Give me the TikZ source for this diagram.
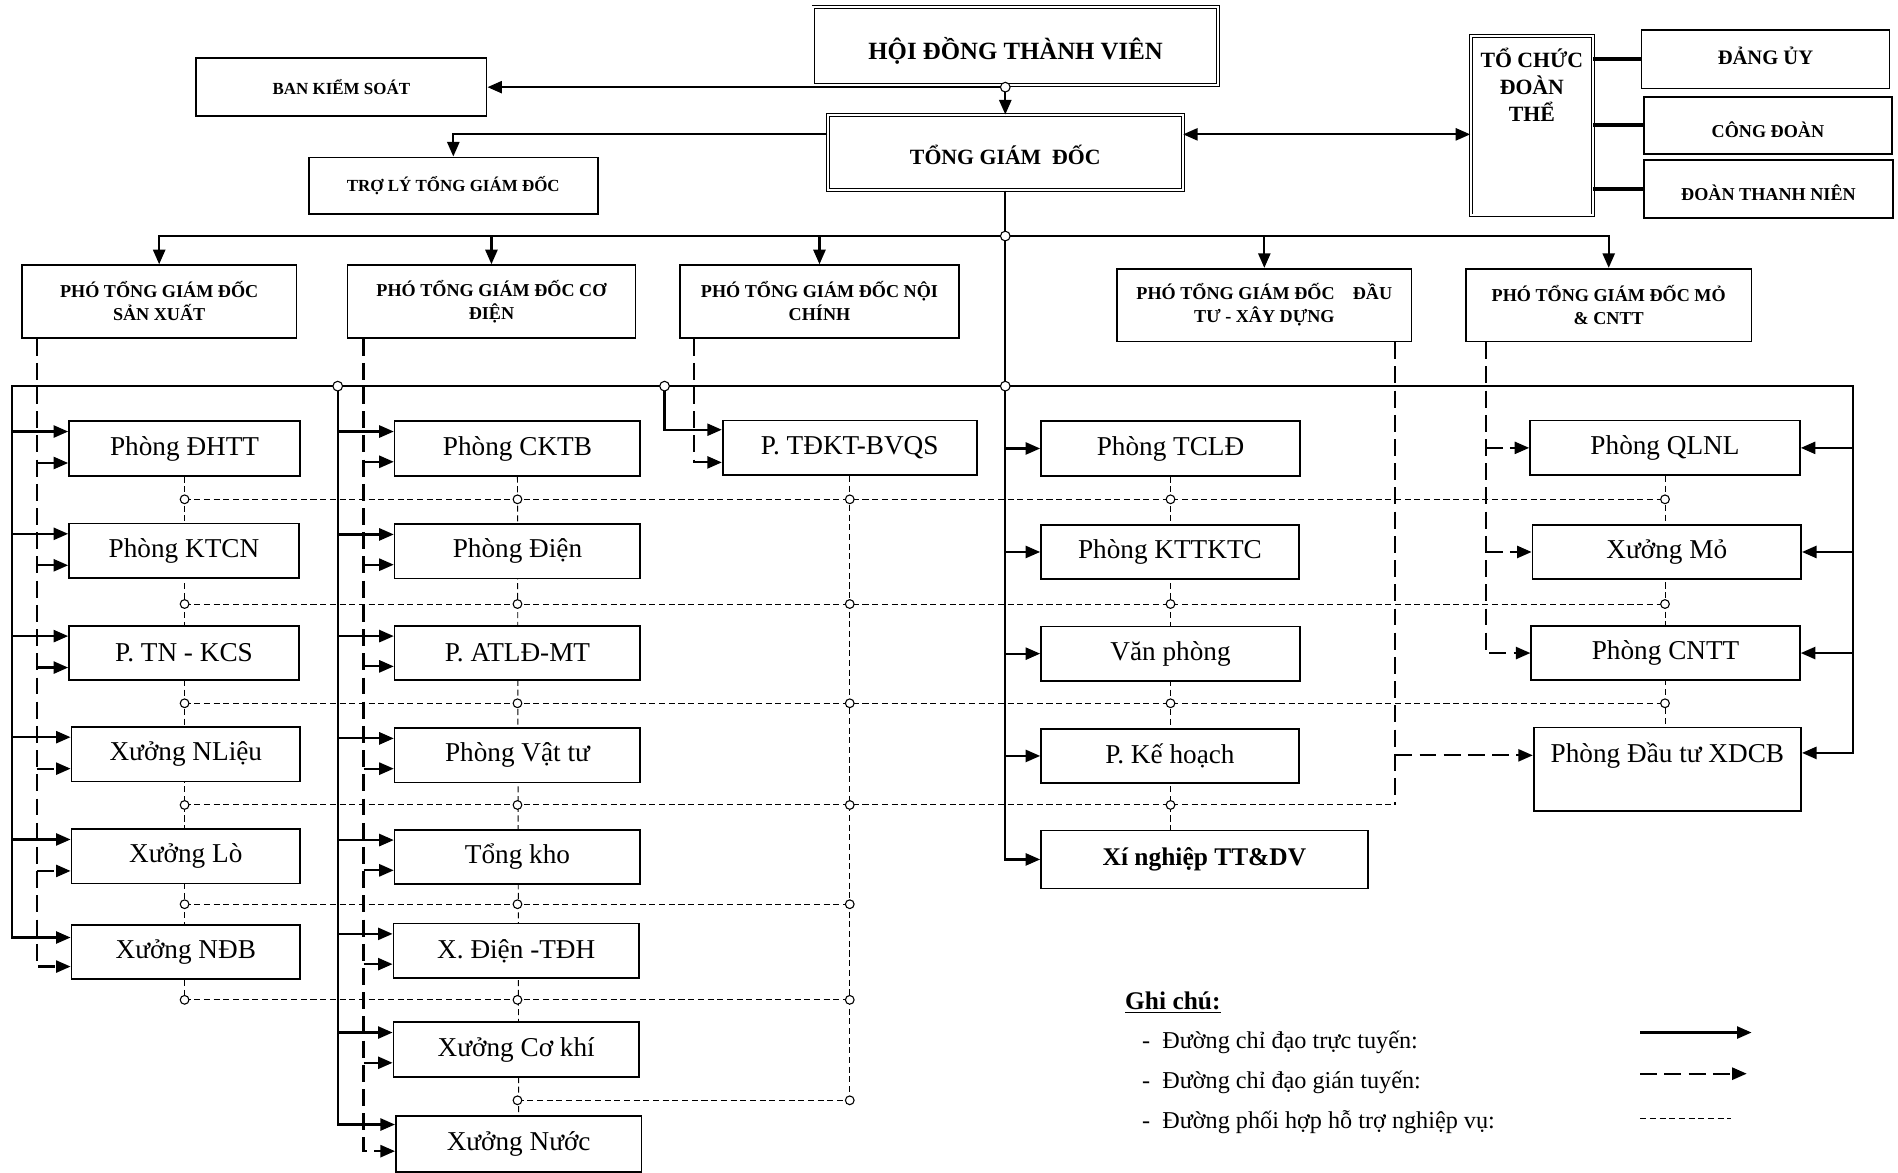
\documentclass[tikz,border=0pt]{standalone}
\usepackage{fontspec}
\setmainfont{Liberation Serif}
\usetikzlibrary{arrows.meta,backgrounds}

\begin{document}
\begin{tikzpicture}[x=1pt, y=-1pt, >={Triangle[length=12pt,width=10pt]},
		unit/.style={draw, line width=1.4pt, fill=white, inner sep=0pt, minimum height=45pt, font=\fontsize{22.5}{25}\selectfont},
		deputy/.style={draw, line width=1.4pt, fill=white, inner sep=0pt, minimum height=60pt, align=center, font=\bfseries\fontsize{15}{19}\selectfont},
		board/.style={draw, double, double distance=1.6pt, line width=0.8pt, fill=white, inner sep=0pt},
		office/.style={draw, line width=1.4pt, fill=white, inner sep=0pt, minimum height=47pt, font=\bfseries\fontsize{14}{16}\selectfont},
		direct/.style={line width=1.8pt},
		indirect/.style={line width=1.8pt, dash pattern=on 14pt off 6pt},
		support/.style={line width=0.8pt, dash pattern=on 5pt off 3pt},
		joint/.style={line width=0.9pt, fill=white}
	]

	\useasboundingbox (0,0) rectangle (1568,969);

	% Leadership
	\node[board, minimum width=334pt, text height=42.8pt, text depth=21.2pt, font=\bfseries\fontsize{20.5}{23}\selectfont] (hdtv) at (839,38) {HỘI ĐỒNG THÀNH VIÊN};
	\node[board, minimum width=293pt, text height=41pt, text depth=21pt, font=\bfseries\fontsize{18}{20}\selectfont] (tgd) at (830.5,126) {TỔNG GIÁM~~ĐỐC};
	\node[office, minimum width=240pt, minimum height=48pt] (bks) at (282,72) {BAN KIỂM SOÁT};
	\node[office, minimum width=239pt] (trly) at (374.5,153.5) {TRỢ LÝ TỔNG GIÁM ĐỐC};

	% Mass organisations
	\node[board, minimum width=101pt, minimum height=148pt] (tcdt) at (1265.5,104) {};
	\node[anchor=north, align=center, font=\bfseries\fontsize{18}{22}\selectfont] (tcdtname) at ([yshift=-7pt]tcdt.north) {TỔ CHỨC\\ĐOÀN\\THỂ};
	\node[office, minimum width=205pt, minimum height=48pt, text height=28pt, text depth=20pt, font=\bfseries\fontsize{17}{19}\selectfont] (dangu) at (1458.5,49) {ĐẢNG ỦY};
	\node[office, minimum width=205pt, text height=34pt, text depth=13pt, font=\bfseries\fontsize{15}{17}\selectfont] (congdoan) at (1460.5,103.5) {CÔNG ĐOÀN};
	\node[office, minimum width=206pt, text height=34pt, text depth=14pt, font=\bfseries\fontsize{15}{17}\selectfont] (thanhnien) at (1461,156) {ĐOÀN THANH NIÊN};

	% Deputies
	\node[deputy, minimum width=227pt] (psx) at (131.5,249) {PHÓ TỔNG GIÁM ĐỐC\\SẢN XUẤT};
	\node[deputy, minimum width=238pt] (pcd) at (406,249) {PHÓ TỔNG GIÁM ĐỐC CƠ\\ĐIỆN};
	\node[deputy, minimum width=230pt] (pnc) at (677,249) {PHÓ TỔNG GIÁM ĐỐC NỘI\\CHÍNH};
	\node[deputy, minimum width=243pt] (pdt) at (1044.5,252) {PHÓ TỔNG GIÁM ĐỐC~~~~ĐẦU\\TƯ - XÂY DỰNG};
	\node[deputy, minimum width=236pt] (pmo) at (1329,252) {PHÓ TỔNG GIÁM ĐỐC MỎ\\\& CNTT};

	% Production column
	\node[unit, minimum width=191pt] (dhtt) at (152.5,370.5) {Phòng ĐHTT};
	\node[unit, minimum width=190pt] (ktcn) at (152,455) {Phòng KTCN};
	\node[unit, minimum width=190pt] (tnkcs) at (152,539.5) {P. TN - KCS};
	\node[unit, minimum width=189pt] (nlieu) at (153.5,623) {Xưởng NLiệu};
	\node[unit, minimum width=189pt] (lo) at (153.5,707.5) {Xưởng Lò};
	\node[unit, minimum width=189pt] (ndb) at (153.5,786.5) {Xưởng NĐB};

	% Electro-mechanical column
	\node[unit, minimum width=203pt] (cktb) at (427.5,370.5) {Phòng CKTB};
	\node[unit, minimum width=203pt] (dien) at (427.5,455.5) {Phòng Điện};
	\node[unit, minimum width=203pt] (atld) at (427.5,539.5) {P. ATLĐ-MT};
	\node[unit, minimum width=203pt] (vattu) at (427.5,624) {Phòng Vật tư};
	\node[unit, minimum width=203pt] (tongkho) at (427.5,708) {Tổng kho};
	\node[unit, minimum width=203pt] (xdien) at (426.5,785.5) {X. Điện -TĐH};
	\node[unit, minimum width=203pt] (cokhi) at (426.5,867) {Xưởng Cơ khí};
	\node[unit, minimum width=203pt, minimum height=46pt] (nuoc) at (428.5,945) {Xưởng Nước};

	% Internal affairs
	\node[unit, minimum width=210pt] (tdkt) at (702,370) {P. TĐKT-BVQS};

	% General director column
	\node[unit, minimum width=214pt] (tcld) at (967,370.5) {Phòng TCLĐ};
	\node[unit, minimum width=213pt] (kttktc) at (966.5,456) {Phòng KTTKTC};
	\node[unit, minimum width=214pt] (vanphong) at (967,540) {Văn phòng};
	\node[unit, minimum width=213pt] (kehoach) at (966.5,624.5) {P. Kế hoạch};
	\node[unit, minimum width=270pt, minimum height=48pt, font=\bfseries\fontsize{21}{23}\selectfont] (xnttdv) at (995,710) {Xí nghiệp TT\&DV};

	% Mining column
	\node[unit, minimum width=223pt] (qlnl) at (1375.5,370) {Phòng QLNL};
	\node[unit, minimum width=222pt] (xmo) at (1377,456) {Xưởng Mỏ};
	\node[unit, minimum width=222pt] (cntt) at (1376,539.5) {Phòng CNTT};
	\node[unit, minimum width=221pt, text height=28.6pt, text depth=40.4pt] (xdcb) at (1377.5,635.5) {Phòng Đầu tư XDCB};

	% Junctions and rails
	\coordinate (j0) at (830.5,72);
	\coordinate (j1) at (830.5,195);
	\coordinate (j2) at (830.5,319);
	\coordinate (j3) at (279,319);
	\coordinate (j4) at (549,319);
	\coordinate (bl) at (10,319);
	\coordinate (br) at (1531,319);
	\coordinate (sxd) at ([xshift=13pt]psx.south west);
	\coordinate (cdd) at ([xshift=14pt]pcd.south west);
	\coordinate (ncd) at ([xshift=12pt]pnc.south west);
	\coordinate (dtd) at ([xshift=-14pt]pdt.south east);
	\coordinate (mod) at ([xshift=17pt]pmo.south west);
	\coordinate (tgdl) at ([yshift=15pt]tgd.west);
	\coordinate (tgdr) at ([yshift=15pt]tgd.east);
	\coordinate (r1) at (0,412.5);
	\coordinate (r2) at (0,499);
	\coordinate (r3) at (0,581);
	\coordinate (r4) at (0,665);
	\coordinate (r5) at (0,747);
	\coordinate (r6) at (0,826);
	\coordinate (r7) at (0,909);

	% Coordination lines
	\begin{pgfonlayer}{background}
		\draw[support] (dhtt.south) -- (dhtt |- r6);
		\draw[support] (cktb.south) -- (nuoc.north);
		\draw[support] (tdkt.south) -- (tdkt |- r7);
		\draw[support] (tcld.south) -- (xnttdv.north -| tcld);
		\draw[support] (qlnl.south) -- (xdcb.north -| qlnl);
		\draw[support] (dhtt |- r1) -- (qlnl |- r1);
		\draw[support] (dhtt |- r2) -- (qlnl |- r2);
		\draw[support] (dhtt |- r3) -- (qlnl |- r3);
		\draw[support] (dhtt |- r4) -- (dtd |- r4);
		\draw[support] (dhtt |- r5) -- (tdkt |- r5);
		\draw[support] (dhtt |- r6) -- (tdkt |- r6);
		\draw[support] (cktb |- r7) -- (tdkt |- r7);
	\end{pgfonlayer}

	% Top arrows
	\draw[direct, ->] (hdtv.south -| j0) -- (tgd.north -| j0);
	\draw[direct, ->] (j0) -- (j0 -| bks.east);
	\draw[direct, ->] (tgdl) -| (trly.north);
	\draw[direct, <->] (tgdr) -- (tgdr -| tcdt.west);
	\foreach \b in {dangu, congdoan, thanhnien}
		\draw[line width=3pt] (tcdt.east |- \b.west) -- (\b.west);

	% Deputies
	\draw[direct] (tgd.south) -- (j2);
	\draw[direct, ->] (j1) -| (psx.north);
	\draw[direct, ->] (j1) -| (pmo.north);
	\foreach \p in {pcd, pnc, pdt}
		\draw[direct, ->] (j1 -| \p.north) -- (\p.north);

	% Direct lines
	\draw[direct, <->] ([yshift=13.5pt]xdcb.east) -| (br) -- (bl) |- ([yshift=12pt]ndb.west);
	\foreach \b in {dhtt, ktcn, tnkcs, nlieu, lo}
		\draw[direct, ->] (bl |- \b.west) ++(0,-14) -- ([yshift=14pt]\b.west);
	\draw[direct, ->] (j3) |- ([yshift=16pt]nuoc.west);
	\foreach \b in {cktb, dien, atld, vattu, tongkho, xdien, cokhi}
		\draw[direct, ->] (j3 |- \b.west) ++(0,-14) -- ([yshift=14pt]\b.west);
	\draw[direct, ->] (j4) |- ([yshift=15pt]tdkt.west);
	\draw[direct, ->] (j2) |- (xnttdv.west);
	\foreach \b in {tcld, kttktc, vanphong, kehoach}
		\draw[direct, ->] (j2 |- \b.west) -- (\b.west);
	\foreach \b in {qlnl, xmo, cntt}
		\draw[direct, ->] (br |- \b.east) -- (\b.east);

	% Indirect lines
	\draw[indirect, ->] (sxd) |- ([yshift=-12pt]ndb.west);
	\foreach \b in {dhtt, ktcn, tnkcs, nlieu, lo}
		\draw[indirect, ->] (sxd |- \b.west) ++(0,12) -- ([yshift=-12pt]\b.west);
	\draw[indirect, ->] (cdd) |- ([yshift=-6pt]nuoc.west);
	\foreach \b in {cktb, dien, atld, vattu, tongkho, xdien, cokhi}
		\draw[indirect, ->] (cdd |- \b.west) ++(0,11) -- ([yshift=-11pt]\b.west);
	\draw[indirect, ->] (ncd) |- ([yshift=-12pt]tdkt.west);
	\draw[indirect] (dtd) -- (dtd |- r4);
	\draw[indirect, ->] (dtd |- xdcb.west) ++(0,-11.5) -- ([yshift=11.5pt]xdcb.west);
	\draw[indirect, ->] (mod) |- (cntt.west);
	\foreach \b in {qlnl, xmo}
		\draw[indirect, ->] (mod |- \b.west) -- (\b.west);

	% Joints
	\foreach \j in {j0, j1, j2, j3, j4}
		\draw[joint] (\j) circle (4pt);
	\foreach \r in {r1, r2, r3}
		\foreach \c in {dhtt, cktb, tdkt, tcld, qlnl}
			\draw[joint] (\c |- \r) circle (3.6pt);
	\foreach \c in {dhtt, cktb, tdkt, tcld}
		\draw[joint] (\c |- r4) circle (3.6pt);
	\foreach \r in {r5, r6}
		\foreach \c in {dhtt, cktb, tdkt}
			\draw[joint] (\c |- \r) circle (3.6pt);
	\foreach \c in {cktb, tdkt}
		\draw[joint] (\c |- r7) circle (3.6pt);

	% Legend
	\node[anchor=west, font=\bfseries\fontsize{21}{23}\selectfont] (ghichu) at (926,828) {\underline{Ghi chú:}};
	\node[anchor=west, font=\fontsize{20}{22}\selectfont] (lgdirect) at (940,861) {-\ \ Đường chỉ đạo trực tuyến:};
	\node[anchor=west, font=\fontsize{20}{22}\selectfont] (lgindirect) at (940,894) {-\ \ Đường chỉ đạo gián tuyến:};
	\node[anchor=west, font=\fontsize{20}{22}\selectfont] (lgsupport) at (940,927) {-\ \ Đường phối hợp hỗ trợ nghiệp vụ:};
	\draw[direct, ->] (1355,853) -- (1447,853);
	\draw[indirect, ->] (1355,887) -- (1443,887);
	\draw[support] (1355,924) -- (1430,924);

\end{tikzpicture}
\end{document}
